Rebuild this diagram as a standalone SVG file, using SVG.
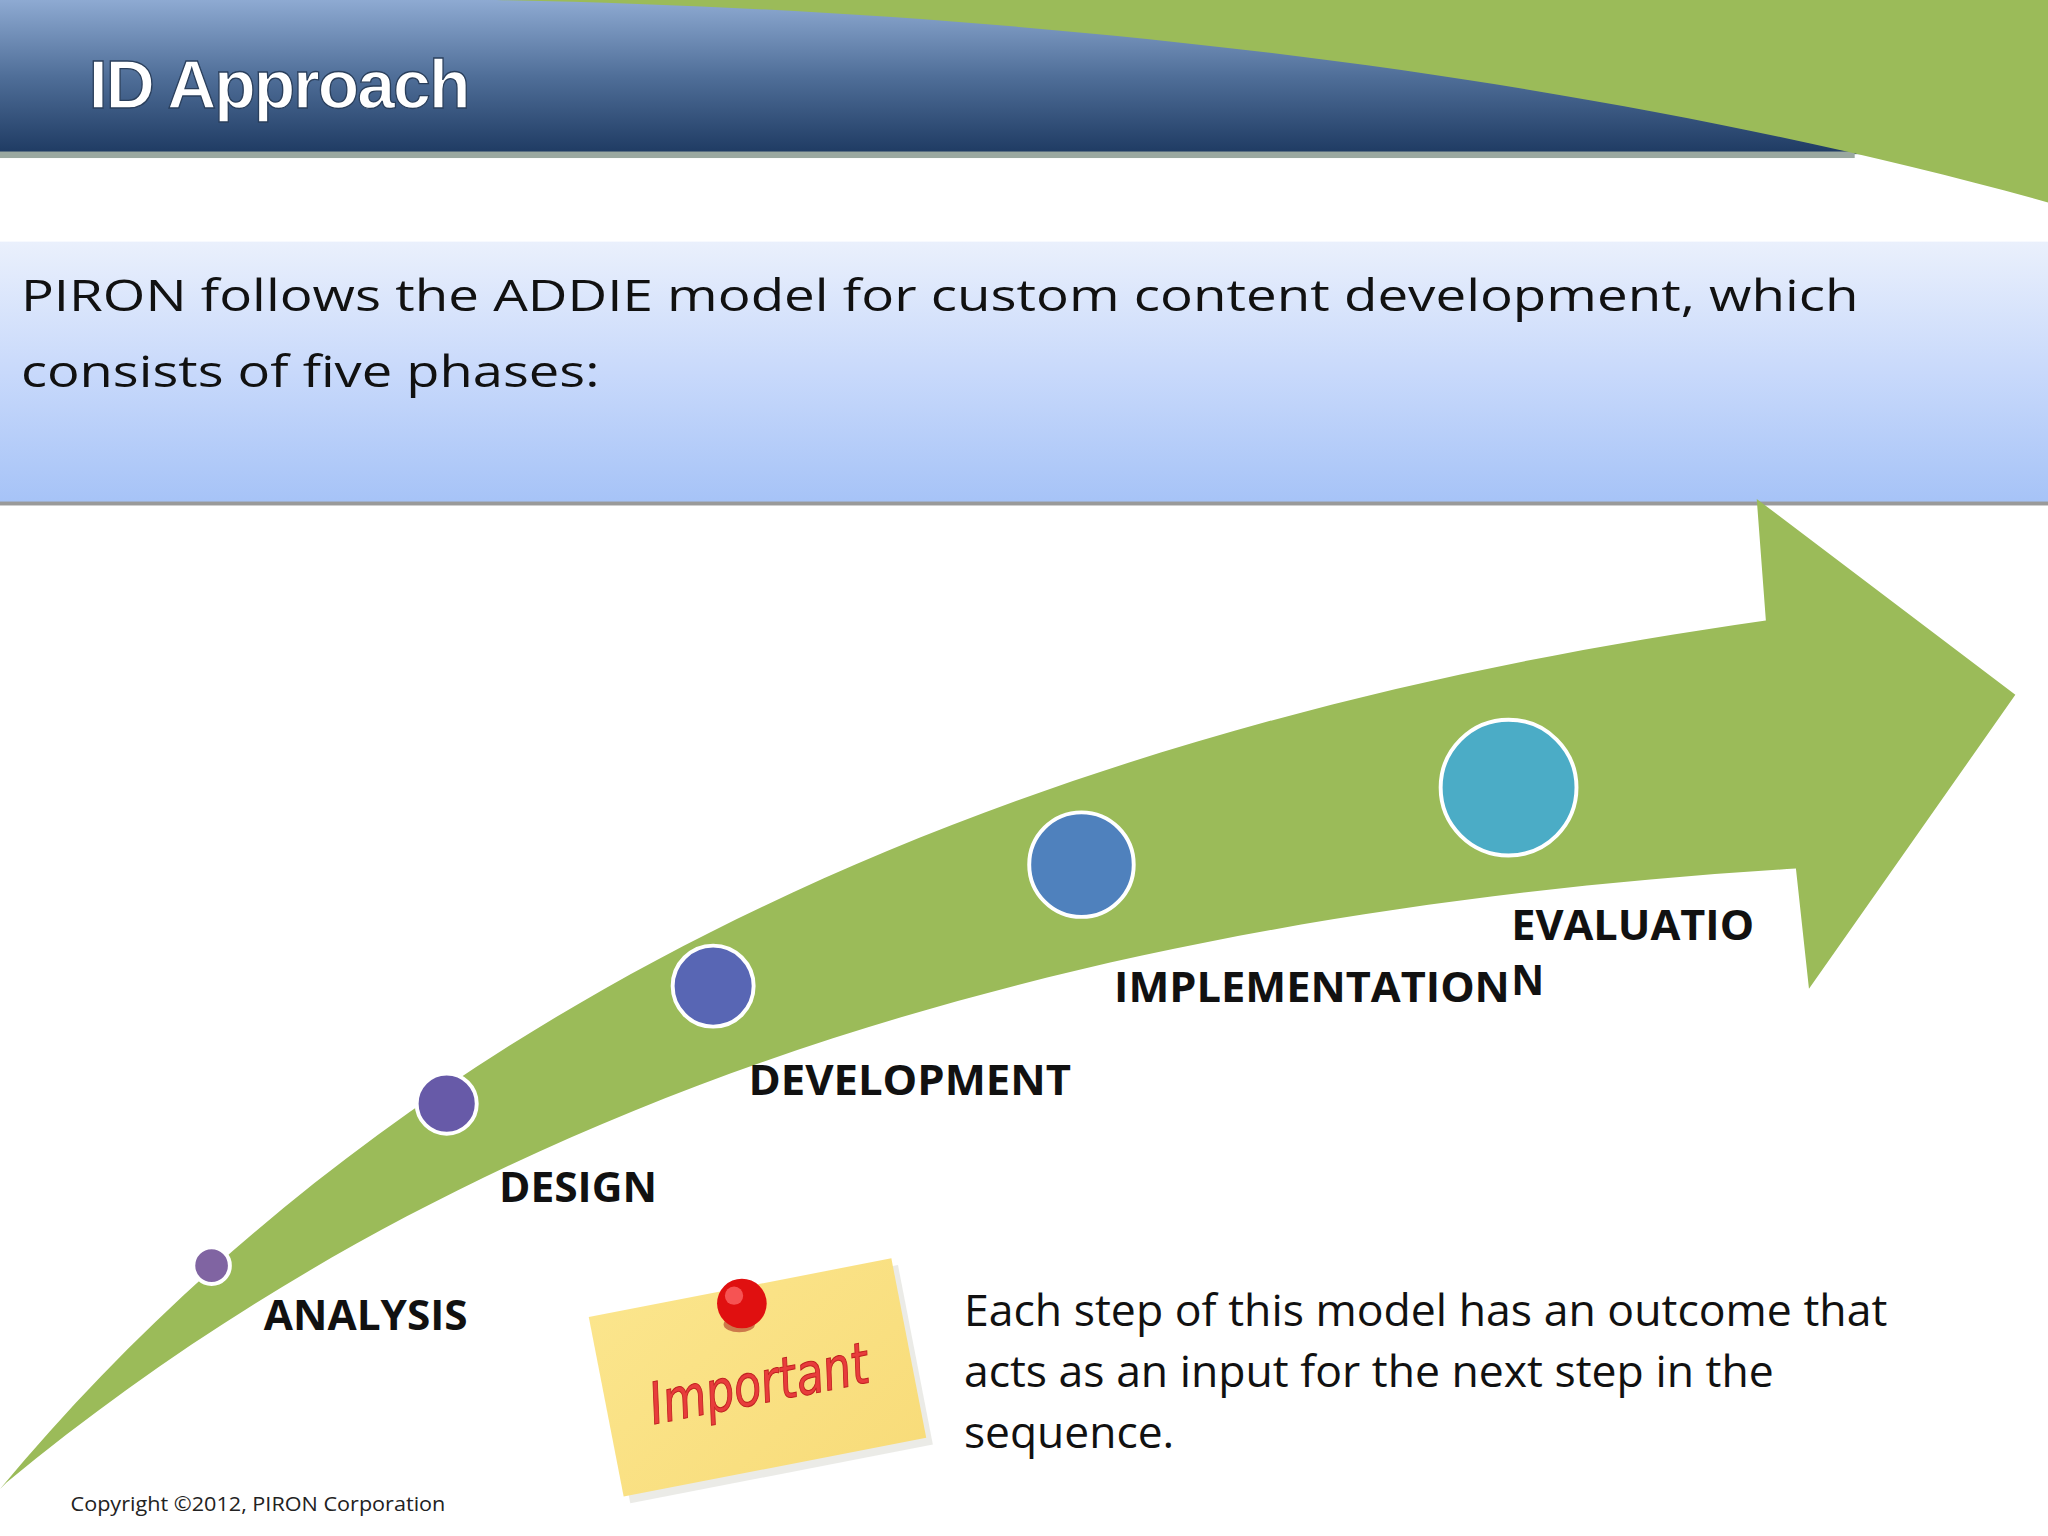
<svg xmlns="http://www.w3.org/2000/svg" width="2048" height="1536" viewBox="0 0 2048 1536">
<defs>
<linearGradient id="hdr" x1="0" y1="0" x2="0" y2="1"><stop offset="0" stop-color="#8eaad2"/><stop offset="0.5" stop-color="#4f6e98"/><stop offset="1" stop-color="#1e3a62"/></linearGradient>
<linearGradient id="band" x1="0" y1="0" x2="0" y2="1"><stop offset="0" stop-color="#eaf0fc"/><stop offset="0.5" stop-color="#c8d9fb"/><stop offset="1" stop-color="#a6c3f7"/></linearGradient>
<linearGradient id="note" x1="0" y1="0" x2="1" y2="1"><stop offset="0" stop-color="#fbe58c"/><stop offset="1" stop-color="#f8dc7a"/></linearGradient>
<style>
.lbl{font-family:"Open Sans","Noto Sans",sans-serif;font-weight:bold;font-size:31px;fill:#111}
.body{font-family:"Open Sans","Noto Sans",sans-serif;font-size:34px;fill:#111}
.dot{stroke:#fff;stroke-width:3}
</style>
</defs>
<g transform="scale(1.30612)">
<rect width="1568" height="1176" fill="#fff"/>
<g id="header">
<rect x="0" y="0" width="1568" height="118" fill="url(#hdr)"/>
<rect x="0" y="116" width="1420" height="5" fill="#9aa8a0"/>
<path d="M380,0 L1568,0 L1568,155 C1300,80 900,10 380,0 Z" fill="#9bbb59"/>
<text x="68" y="83" font-family="Liberation Sans,Arial,sans-serif" font-weight="bold" font-size="52" fill="#fff" stroke="#2a3f5c" stroke-width="1" letter-spacing="-1.5">ID Approach</text>
</g>
<g id="intro">
<rect x="0" y="185" width="1568" height="200" fill="url(#band)"/>
<rect x="0" y="384" width="1568" height="3" fill="#9a9a9a"/>
<text class="body" x="16" y="238" font-size="41" textLength="1407" lengthAdjust="spacingAndGlyphs">PIRON follows the ADDIE model for custom content development, which</text>
<text class="body" x="16" y="296" font-size="41" textLength="443" lengthAdjust="spacingAndGlyphs">consists of five phases:</text>
</g>
<g id="arrow">
<path d="M0,1140 C300,780 750,560 1352,475 L1345,382 L1543,532 L1385,757 L1375,665 C800,700 350,850 5,1135 Z" fill="#9bbb59"/>
</g>
<g id="analysis"><circle class="dot" cx="162" cy="969" r="14" fill="#8064a2"/><text class="lbl" x="202" y="1018" textLength="156" lengthAdjust="spacingAndGlyphs">ANALYSIS</text></g>
<g id="design"><circle class="dot" cx="342" cy="845" r="23" fill="#675aa8"/><text class="lbl" x="382" y="920" textLength="121" lengthAdjust="spacingAndGlyphs">DESIGN</text></g>
<g id="development"><circle class="dot" cx="546" cy="755" r="31" fill="#5866b4"/><text class="lbl" x="573" y="838" textLength="247" lengthAdjust="spacingAndGlyphs">DEVELOPMENT</text></g>
<g id="implementation"><circle class="dot" cx="828" cy="662" r="40" fill="#4f81bd"/><text class="lbl" x="853" y="767" textLength="303" lengthAdjust="spacingAndGlyphs">IMPLEMENTATION</text></g>
<g id="evaluation"><circle class="dot" cx="1155" cy="603" r="52" fill="#4bacc6"/><text class="lbl" x="1157" y="720" textLength="186" lengthAdjust="spacingAndGlyphs">EVALUATIO</text><text class="lbl" x="1157" y="762">N</text></g>
<g id="important">
<g transform="rotate(-11 578 1055)">
<rect x="462" y="985" width="236" height="140" fill="#d8d8d0" opacity="0.5" transform="translate(4,6)"/>
<rect x="462" y="985" width="236" height="140" fill="url(#note)"/>
<text x="580" y="1075" text-anchor="middle" font-family="DejaVu Sans,sans-serif" font-style="italic" font-size="44" fill="#e83c3c" stroke="#c02020" stroke-width="0.8" textLength="170" lengthAdjust="spacingAndGlyphs">Important</text>
</g>
<ellipse cx="566" cy="1014" rx="12" ry="6" fill="#a01010" opacity="0.5"/>
<circle cx="568" cy="998" r="19" fill="#e01010"/>
<circle cx="562" cy="992" r="7" fill="#ff7070" opacity="0.7"/>
</g>
<g id="note-text">
<text class="body" x="738" y="1015" textLength="707" lengthAdjust="spacingAndGlyphs">Each step of this model has an outcome that</text>
<text class="body" x="738" y="1062" textLength="620" lengthAdjust="spacingAndGlyphs">acts as an input for the next step in the</text>
<text class="body" x="738" y="1109" textLength="161" lengthAdjust="spacingAndGlyphs">sequence.</text>
</g>
<text x="54" y="1157" font-family="Open Sans,Noto Sans,sans-serif" font-size="15" fill="#222" textLength="287" lengthAdjust="spacingAndGlyphs">Copyright ©2012, PIRON Corporation</text>
</g>
</svg>
